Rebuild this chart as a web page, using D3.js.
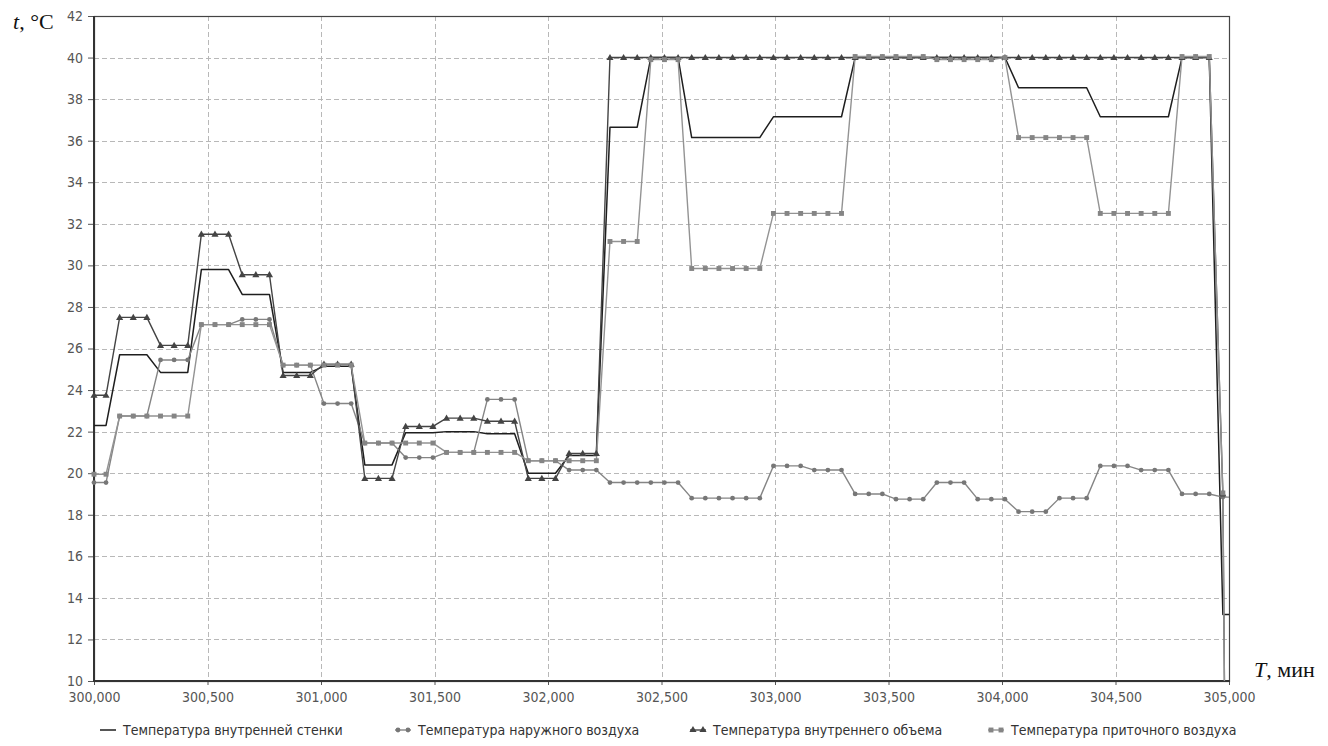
<!DOCTYPE html>
<html>
<head>
<meta charset="utf-8">
<script src="https://cdn.jsdelivr.net/npm/d3@7"></script>
<style>
  body { margin: 0; background: #ffffff; }
  svg { display: block; }
</style>
</head>
<body>
<svg id="chart" width="1328" height="746"></svg>
<script>
// Time stamps of the simulation log, minutes
const time = [
  300000, 300053, 300113, 300173, 300233, 300293, 300353, 300413, 300473, 300533,
  300593, 300653, 300713, 300773, 300833, 300893, 300953, 301013, 301073, 301133,
  301193, 301253, 301313, 301373, 301433, 301493, 301553, 301613, 301673, 301733,
  301793, 301853, 301913, 301973, 302033, 302093, 302153, 302213, 302273, 302333,
  302393, 302453, 302513, 302573, 302633, 302693, 302753, 302813, 302873, 302933,
  302993, 303053, 303113, 303173, 303233, 303293, 303353, 303413, 303473, 303533,
  303593, 303653, 303713, 303773, 303833, 303893, 303953, 304013, 304073, 304133,
  304193, 304253, 304313, 304373, 304433, 304493, 304553, 304613, 304673, 304733,
  304793, 304853, 304913, 304973, 305033
];

// Inner wall surface temperature, °C
const wallTemp = [
  22.3, 22.3, 25.7, 25.7, 25.7, 24.85, 24.85, 24.85, 29.8, 29.8,
  29.8, 28.6, 28.6, 28.6, 24.85, 24.85, 24.85, 25.15, 25.15, 25.15,
  20.4, 20.4, 20.4, 21.95, 21.95, 21.95, 22.0, 22.0, 22.0, 21.9,
  21.9, 21.9, 20.0, 20.0, 20.0, 20.85, 20.85, 20.85, 36.65, 36.65,
  36.65, 40, 40, 40, 36.15, 36.15, 36.15, 36.15, 36.15, 36.15,
  37.15, 37.15, 37.15, 37.15, 37.15, 37.15, 40, 40, 40, 40,
  40, 40, 40, 40, 40, 40, 40, 40, 38.55, 38.55,
  38.55, 38.55, 38.55, 38.55, 37.15, 37.15, 37.15, 37.15, 37.15, 37.15,
  40, 40, 40, 13.2, 13.2
];

// Outdoor air temperature, °C
const outdoorTemp = [
  19.55, 19.55, 22.75, 22.75, 22.75, 25.45, 25.45, 25.45, 27.15, 27.15,
  27.15, 27.4, 27.4, 27.4, 25.2, 25.2, 25.2, 23.35, 23.35, 23.35,
  21.45, 21.45, 21.45, 20.75, 20.75, 20.75, 21.0, 21.0, 21.0, 23.55,
  23.55, 23.55, 20.6, 20.6, 20.6, 20.15, 20.15, 20.15, 19.55, 19.55,
  19.55, 19.55, 19.55, 19.55, 18.8, 18.8, 18.8, 18.8, 18.8, 18.8,
  20.35, 20.35, 20.35, 20.15, 20.15, 20.15, 19.0, 19.0, 19.0, 18.75,
  18.75, 18.75, 19.55, 19.55, 19.55, 18.75, 18.75, 18.75, 18.15, 18.15,
  18.15, 18.8, 18.8, 18.8, 20.35, 20.35, 20.35, 20.15, 20.15, 20.15,
  19.0, 19.0, 19.0, 18.85, 18.85
];

// Indoor air volume temperature, °C
const indoorTemp = [
  23.75, 23.75, 27.5, 27.5, 27.5, 26.15, 26.15, 26.15, 31.5, 31.5,
  31.5, 29.55, 29.55, 29.55, 24.7, 24.7, 24.7, 25.25, 25.25, 25.25,
  19.75, 19.75, 19.75, 22.25, 22.25, 22.25, 22.65, 22.65, 22.65, 22.5,
  22.5, 22.5, 19.75, 19.75, 19.75, 20.95, 20.95, 20.95, 40, 40,
  40, 40, 40, 40, 40, 40, 40, 40, 40, 40,
  40, 40, 40, 40, 40, 40, 40, 40, 40, 40,
  40, 40, 40, 40, 40, 40, 40, 40, 40, 40,
  40, 40, 40, 40, 40, 40, 40, 40, 40, 40,
  40, 40, 40, 19.0, -60
];

// Supply air temperature, °C
const supplyTemp = [
  19.95, 19.95, 22.75, 22.75, 22.75, 22.75, 22.75, 22.75, 27.15, 27.15,
  27.15, 27.15, 27.15, 27.15, 25.2, 25.2, 25.2, 25.2, 25.2, 25.2,
  21.45, 21.45, 21.45, 21.45, 21.45, 21.45, 21.0, 21.0, 21.0, 21.0,
  21.0, 21.0, 20.6, 20.6, 20.6, 20.6, 20.6, 20.6, 31.15, 31.15,
  31.15, 39.9, 39.9, 39.9, 29.85, 29.85, 29.85, 29.85, 29.85, 29.85,
  32.5, 32.5, 32.5, 32.5, 32.5, 32.5, 40.05, 40.05, 40.05, 40.05,
  40.05, 40.05, 39.9, 39.9, 39.9, 39.9, 39.9, 40.0, 36.15, 36.15,
  36.15, 36.15, 36.15, 36.15, 32.5, 32.5, 32.5, 32.5, 32.5, 32.5,
  40.05, 40.05, 40.05, 19.05, -60
];

const seriesNames = [
  "Температура внутренней стенки",
  "Температура наружного воздуха",
  "Температура внутреннего объема",
  "Температура приточного воздуха"
];

const xTicks = [300000, 300500, 301000, 301500, 302000, 302500, 303000, 303500, 304000, 304500, 305000];
const yTicks = [10, 12, 14, 16, 18, 20, 22, 24, 26, 28, 30, 32, 34, 36, 38, 40, 42];

const yAxisTitle = ["t", ", °C"];
const xAxisTitle = ["T", ", мин"];

// ---- layout ----
const plot = { left: 94, right: 1229, top: 16, bottom: 681 };
const svg = d3.select("#chart");
const tickFont = "'DejaVu Sans Condensed', 'DejaVu Sans', sans-serif";

const x = d3.scaleLinear().domain([xTicks[0], xTicks[xTicks.length - 1]]).range([plot.left, plot.right]);
const y = d3.scaleLinear().domain([yTicks[0], yTicks[yTicks.length - 1]]).range([plot.bottom, plot.top]);

svg.append("defs").append("clipPath").attr("id", "plotClip")
  .append("rect")
  .attr("x", plot.left).attr("y", plot.top)
  .attr("width", plot.right - plot.left).attr("height", plot.bottom - plot.top);

// grid
const grid = svg.append("g").attr("stroke", "#b8b8b8").attr("stroke-width", 1)
  .attr("stroke-dasharray", "5,3").attr("fill", "none");
grid.selectAll("line.h").data(yTicks.slice(1, -1)).join("line")
  .attr("x1", plot.left).attr("x2", plot.right)
  .attr("y1", d => Math.round(y(d)) + 0.5).attr("y2", d => Math.round(y(d)) + 0.5);
grid.selectAll("line.v").data(xTicks.slice(1, -1)).join("line")
  .attr("y1", plot.top).attr("y2", plot.bottom)
  .attr("x1", d => Math.round(x(d)) + 0.5).attr("x2", d => Math.round(x(d)) + 0.5);

// axes
const yAxis = svg.append("g").attr("transform", `translate(${plot.left},0)`)
  .call(d3.axisLeft(y).tickValues(yTicks).tickFormat(d3.format("d")).tickSize(6).tickPadding(5));
const xAxis = svg.append("g").attr("transform", `translate(0,${plot.bottom})`)
  .call(d3.axisBottom(x).tickValues(xTicks).tickFormat(d3.format(",.0f")).tickSize(4).tickPadding(7));
[yAxis, xAxis].forEach(a => {
  a.select(".domain").remove();
  a.selectAll(".tick line").attr("stroke", "#555");
  a.selectAll(".tick text").attr("fill", "#555").style("font-family", tickFont).style("font-size", "14px");
});

// frame
svg.append("rect")
  .attr("x", plot.left + 0.5).attr("y", plot.top + 0.5)
  .attr("width", plot.right - plot.left).attr("height", plot.bottom - plot.top)
  .attr("fill", "none").attr("stroke", "#444").attr("stroke-width", 1.2);
svg.append("line").attr("x1", plot.left).attr("x2", plot.left).attr("y1", plot.top).attr("y2", plot.bottom + 1)
  .attr("stroke", "#333").attr("stroke-width", 2);
svg.append("line").attr("x1", plot.left).attr("x2", plot.right + 1).attr("y1", plot.bottom).attr("y2", plot.bottom)
  .attr("stroke", "#333").attr("stroke-width", 2);

// series
const series = [
  { name: seriesNames[0], values: wallTemp,    line: "#1e1e1e", width: 1.5, marker: null,       fill: null },
  { name: seriesNames[1], values: outdoorTemp, line: "#858585", width: 1.4, marker: "circle",   fill: "#777777" },
  { name: seriesNames[2], values: indoorTemp,  line: "#444444", width: 1.4, marker: "triangle", fill: "#444444" },
  { name: seriesNames[3], values: supplyTemp,  line: "#939393", width: 1.4, marker: "square",   fill: "#858585" }
];

const symbolOf = {
  circle: d3.symbol().type(d3.symbolCircle).size(18),
  triangle: d3.symbol().type(d3.symbolTriangle).size(22),
  square: d3.symbol().type(d3.symbolSquare).size(24)
};

const lineGen = d3.line().x((d, i) => x(time[i])).y(d => y(d));
const plotLayer = svg.append("g").attr("clip-path", "url(#plotClip)");
const markerLayer = svg.append("g");

series.forEach(s => {
  plotLayer.append("path")
    .datum(s.values)
    .attr("d", lineGen)
    .attr("fill", "none")
    .attr("stroke", s.line)
    .attr("stroke-width", s.width)
    .attr("stroke-linejoin", "round");
  if (s.marker) {
    const pts = s.values
      .map((v, i) => ({ t: time[i], v }))
      .filter(p => p.t >= x.domain()[0] && p.t <= x.domain()[1] && p.v >= y.domain()[0] && p.v <= y.domain()[1]);
    markerLayer.append("g").selectAll("path").data(pts).join("path")
      .attr("d", symbolOf[s.marker])
      .attr("transform", p => `translate(${x(p.t)},${y(p.v) + (s.marker === "triangle" ? 0.5 : 0)})`)
      .attr("fill", s.fill);
  }
});

// axis titles
const serif = "'Liberation Serif', 'Times New Roman', serif";
const yt = svg.append("text").attr("x", 13).attr("y", 29)
  .style("font-family", serif).style("font-size", "22px").attr("fill", "#111");
yt.append("tspan").style("font-style", "italic").text(yAxisTitle[0]);
yt.append("tspan").text(yAxisTitle[1]);
const xt = svg.append("text").attr("x", 1254).attr("y", 677)
  .style("font-family", serif).style("font-size", "22px").attr("fill", "#111");
xt.append("tspan").style("font-style", "italic").text(xAxisTitle[0]);
xt.append("tspan").text(xAxisTitle[1]);

// legend
const legendX = [100, 395, 690, 988];
const legendY = 730;
const legend = svg.append("g");
series.forEach((s, i) => {
  const g = legend.append("g").attr("transform", `translate(${legendX[i]},${legendY})`);
  g.append("line").attr("x1", 0).attr("x2", 16).attr("y1", 0).attr("y2", 0)
    .attr("stroke", s.line).attr("stroke-width", s.width);
  if (s.marker) {
    [3, 13].forEach(px => g.append("path").attr("d", symbolOf[s.marker])
      .attr("transform", `translate(${px},0)`).attr("fill", s.fill));
  }
  g.append("text").attr("x", 23).attr("y", 0).attr("dy", "0.35em")
    .style("font-family", tickFont).style("font-size", "14px").attr("fill", "#333")
    .text(s.name);
});
</script>
</body>
</html>
